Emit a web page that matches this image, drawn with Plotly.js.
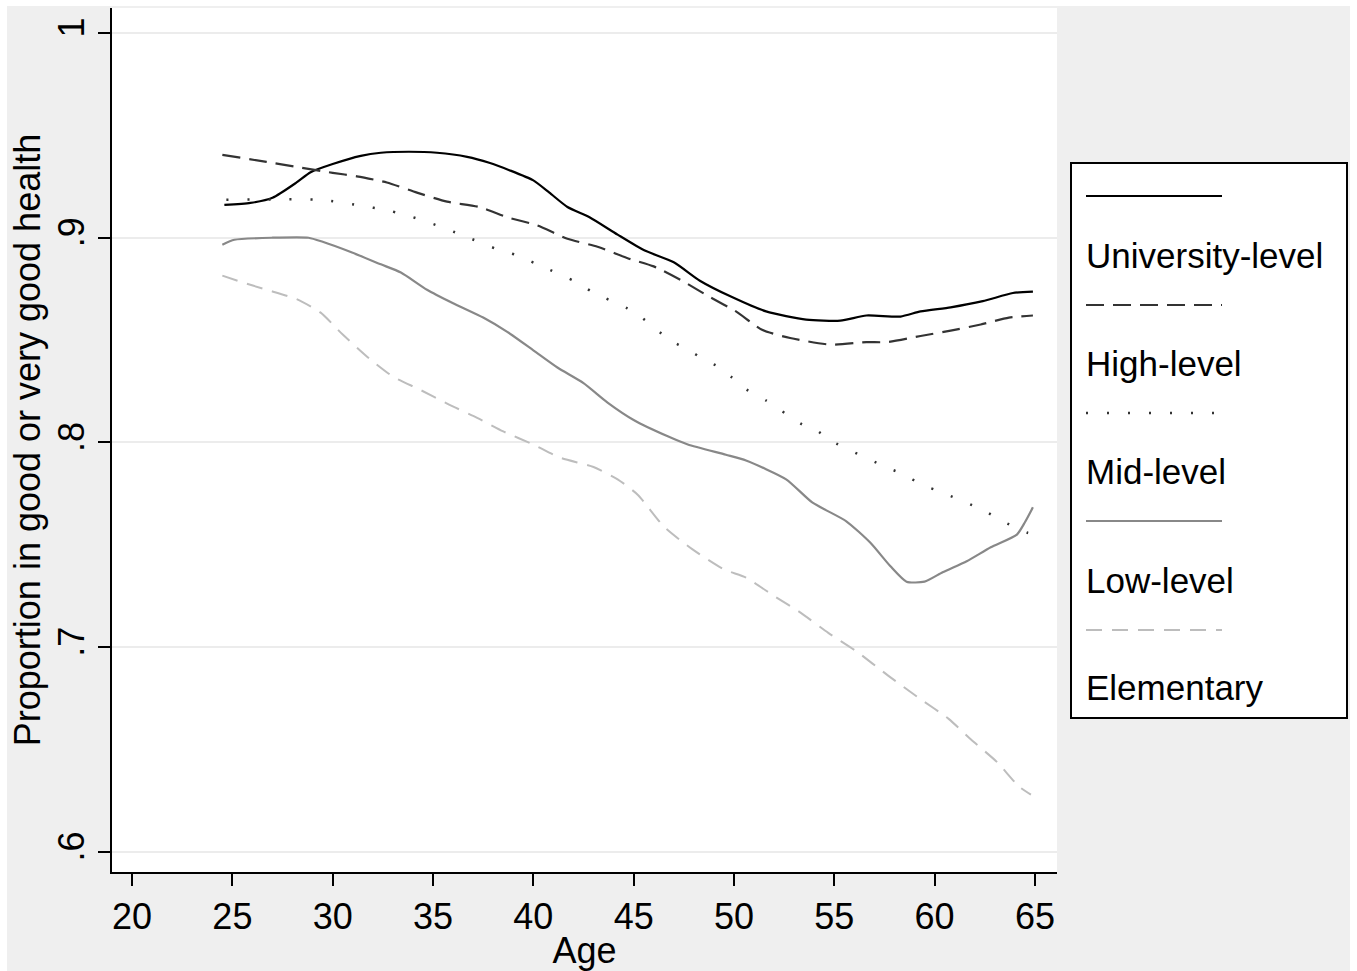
<!DOCTYPE html>
<html>
<head>
<meta charset="utf-8">
<script src="https://cdn.plot.ly/plotly-3.0.1.min.js"></script>
<style>
  html, body { margin: 0; padding: 0; background: #ffffff; }
  #chart { position: absolute; left: 7px; top: 6px; width: 1343px; height: 965px; }
</style>
</head>
<body>
<div id="chart"></div>
<script>
// ---- Data ----
const seriesNames = ["University-level", "High-level", "Mid-level", "Low-level", "Elementary"];

const univAge = [24.6, 25.9, 27.0, 28.2, 28.9, 30.0, 31.4, 32.4, 33.8, 35.2, 36.7, 37.8, 38.8, 40.0, 40.8, 41.7, 42.8, 44.2, 45.5, 47.0, 48.3, 49.9, 51.6, 53.6, 55.3, 56.6, 58.3, 59.3, 60.8, 62.4, 63.9, 64.9];
const univVal = [0.916, 0.917, 0.9195, 0.927, 0.932, 0.936, 0.940, 0.9415, 0.942, 0.9415, 0.9395, 0.9366, 0.933, 0.928, 0.922, 0.915, 0.910, 0.9015, 0.894, 0.888, 0.879, 0.871, 0.864, 0.860, 0.8595, 0.862, 0.8615, 0.864, 0.866, 0.869, 0.873, 0.8737];

const highAge = [24.5, 26.7, 28.2, 30.0, 31.2, 32.7, 34.2, 35.7, 37.3, 38.7, 40.2, 41.7, 43.2, 44.7, 46.0, 47.5, 48.8, 50.1, 51.4, 52.8, 54.8, 56.6, 57.6, 59.3, 60.8, 62.3, 63.7, 64.9];
const highVal = [0.9405, 0.937, 0.9346, 0.9317, 0.930, 0.927, 0.922, 0.9176, 0.915, 0.910, 0.906, 0.8995, 0.8956, 0.890, 0.886, 0.8785, 0.871, 0.864, 0.855, 0.851, 0.8478, 0.849, 0.849, 0.852, 0.8546, 0.8576, 0.861, 0.862];

const midAge = [24.7, 29.4, 31.2, 32.9, 34.0, 35.2, 36.4, 38.3, 39.1, 40.2, 42.2, 42.9, 44.7, 45.4, 46.8, 47.7, 48.5, 49.3, 49.9, 50.6, 51.6, 53.4, 54.1, 54.8, 57.8, 58.5, 59.3, 60.0, 62.4, 63.4, 64.6, 65.0];
const midVal = [0.9185, 0.9185, 0.916, 0.913, 0.910, 0.906, 0.9015, 0.894, 0.8917, 0.887, 0.878, 0.8737, 0.8654, 0.861, 0.850, 0.8454, 0.8405, 0.8366, 0.8317, 0.826, 0.8205, 0.8088, 0.806, 0.801, 0.787, 0.7844, 0.7795, 0.777, 0.767, 0.7615, 0.756, 0.755];

const lowAge = [24.5, 25.1, 27.0, 28.8, 29.5, 30.9, 32.4, 33.4, 34.7, 36.0, 37.5, 38.7, 40.0, 41.2, 42.5, 43.7, 45.0, 46.7, 47.7, 49.6, 50.6, 52.6, 53.9, 55.6, 56.8, 57.8, 58.6, 59.5, 60.4, 61.6, 62.8, 64.1, 64.5, 64.9];
const lowVal = [0.8966, 0.899, 0.900, 0.900, 0.898, 0.893, 0.887, 0.883, 0.8746, 0.868, 0.861, 0.854, 0.845, 0.8366, 0.829, 0.8195, 0.811, 0.803, 0.799, 0.794, 0.7912, 0.782, 0.7707, 0.7615, 0.751, 0.7395, 0.732, 0.732, 0.7366, 0.742, 0.7488, 0.755, 0.761, 0.7683];

const elemAge = [24.5, 25.4, 26.7, 28.2, 29.4, 30.5, 31.7, 33.0, 34.3, 35.8, 37.2, 38.5, 40.0, 41.3, 43.0, 44.2, 45.2, 46.5, 47.9, 49.5, 50.6, 52.0, 53.3, 54.7, 56.1, 57.7, 59.3, 60.7, 61.8, 63.1, 64.2, 64.8];
const elemVal = [0.8815, 0.8785, 0.8746, 0.870, 0.8634, 0.8527, 0.842, 0.8322, 0.826, 0.8185, 0.812, 0.8054, 0.799, 0.7927, 0.788, 0.782, 0.7745, 0.759, 0.748, 0.738, 0.734, 0.725, 0.717, 0.707, 0.698, 0.686, 0.6746, 0.665, 0.655, 0.644, 0.632, 0.628];

const xTickVals = [20, 25, 30, 35, 40, 45, 50, 55, 60, 65];
const yTickVals = [0.6, 0.7, 0.8, 0.9, 1.0];
const yTickText = [".6", ".7", ".8", ".9", "1"];

// ---- Styles ----
const styles = [
  {color: "#000000", width: 2.2, dash: "solid"},
  {color: "#333333", width: 2.2, dash: "18px,9px"},
  {color: "#333333", width: 2.5, dash: "2px,19px"},
  {color: "#888888", width: 2.2, dash: "solid"},
  {color: "#bdbdbd", width: 2.0, dash: "16px,10px"}
];
const xs = [univAge, highAge, midAge, lowAge, elemAge];
const ys = [univVal, highVal, midVal, lowVal, elemVal];

const traces = seriesNames.map((n, i) => ({
  type: "scatter", mode: "lines", name: n,
  x: xs[i], y: ys[i],
  line: {color: styles[i].color, width: styles[i].width, dash: styles[i].dash, shape: "spline", smoothing: 0.6},
  showlegend: false, hoverinfo: "skip"
}));

// plot area in page pixels: x 112..1057, y 8..872
const PL = 112, PR = 1057, PT = 8, PB = 872;
const px = v => (v - PL) / (PR - PL);
const py = v => (PB - v) / (PB - PT);

const shapes = [];
const annotations = [];
// legend box
shapes.push({type: "rect", xref: "paper", yref: "paper",
  x0: px(1071), x1: px(1347), y0: py(718), y1: py(163),
  line: {color: "#000000", width: 2}, fillcolor: "#ffffff", layer: "below"});
const sampleY = [196, 305, 413, 521, 630];
const textY = [255, 363, 471, 580, 687];
seriesNames.forEach((n, i) => {
  shapes.push({type: "line", xref: "paper", yref: "paper",
    x0: px(1086), x1: px(1222), y0: py(sampleY[i]), y1: py(sampleY[i]),
    line: {color: styles[i].color, width: styles[i].width, dash: styles[i].dash}});
  annotations.push({xref: "paper", yref: "paper", x: px(1084), y: py(textY[i]),
    xanchor: "left", yanchor: "middle", showarrow: false, text: n,
    font: {family: "Liberation Sans, Arial, sans-serif", size: 35, color: "#000000"}});
});

const tickFont = {family: "Liberation Sans, Arial, sans-serif", size: 36, color: "#000000"};
const titleFont = {family: "Liberation Sans, Arial, sans-serif", size: 36, color: "#000000"};

const layout = {
  width: 1343, height: 965,
  margin: {l: PL - 7, r: 1343 - (PR - 7), t: PT - 6, b: 965 - (PB - 6)},
  paper_bgcolor: "#efefef", plot_bgcolor: "#ffffff",
  showlegend: false,
  xaxis: {
    range: [19.0, 66.1], tickvals: xTickVals, ticktext: xTickVals.map(String),
    showline: true, linecolor: "#000000", linewidth: 2,
    ticks: "outside", ticklen: 12, tickwidth: 2, tickcolor: "#000000",
    showgrid: false, zeroline: false, tickfont: tickFont,
    title: {text: "Age", font: titleFont, standoff: 0}
  },
  yaxis: {
    range: [0.5902, 1.0122], tickvals: yTickVals, ticktext: yTickText, tickangle: -90,
    showline: true, linecolor: "#000000", linewidth: 2,
    ticks: "outside", ticklen: 12, tickwidth: 2, tickcolor: "#000000",
    showgrid: true, gridcolor: "#ececec", gridwidth: 2, zeroline: false, tickfont: tickFont,
    title: {text: "Proportion in good or very good health", font: titleFont, standoff: 8}
  },
  shapes: shapes,
  annotations: annotations
};

Plotly.newPlot("chart", traces, layout, {staticPlot: true, displayModeBar: false});
</script>
</body>
</html>
